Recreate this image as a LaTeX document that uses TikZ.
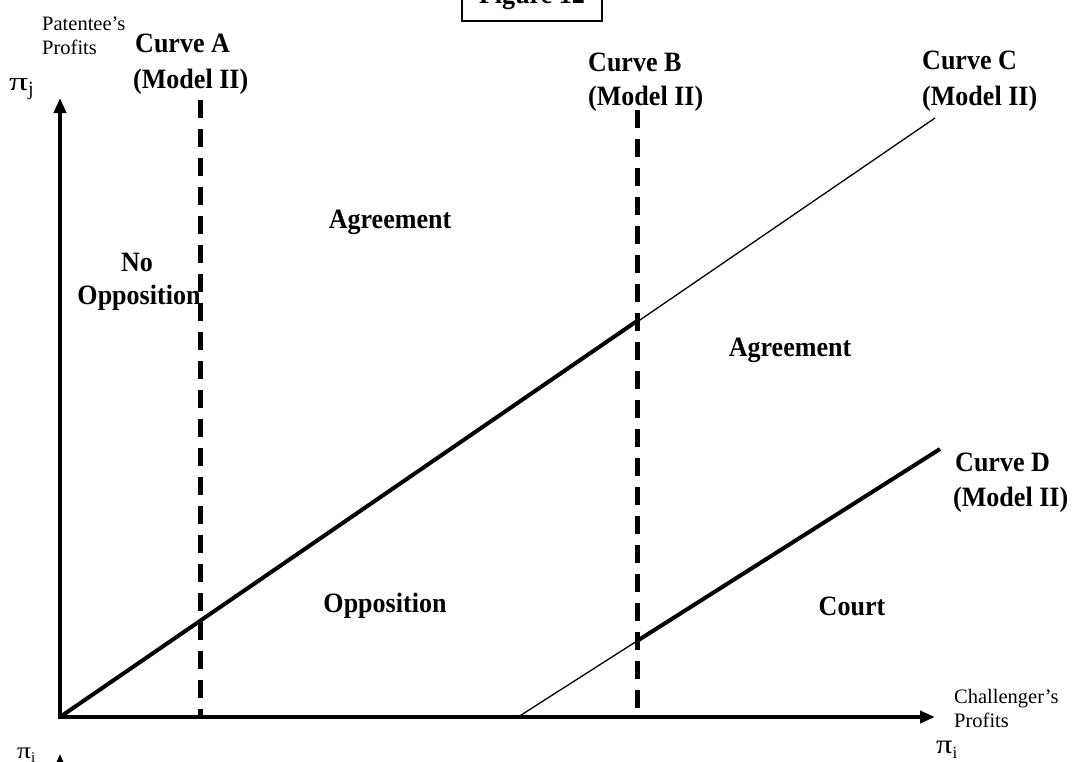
\documentclass[tikz,border=0pt]{standalone}
\usepackage{fontspec}
\setmainfont{Liberation Serif}
\newfontfamily\lblfont[FakeStretch=0.93]{Liberation Serif}
\usetikzlibrary{arrows.meta}
\newcommand{\bigpi}[3]{{\fontsize{#1}{#1}\selectfont\scalebox{#2}[1]{π}}\raisebox{-0.22em}{\fontsize{#3}{#3}\selectfont}}
\begin{document}
\begin{tikzpicture}[x=1pt,y=-1pt,
  lbl/.style={font=\lblfont\fontsize{28}{32}\selectfont\bfseries, inner sep=0pt, anchor=base west},
  region/.style={font=\lblfont\fontsize{28}{32}\selectfont\bfseries, inner sep=0pt},
  small/.style={font=\fontsize{20.5}{24}\selectfont, inner sep=0pt, anchor=base west},
  pilbl/.style={inner sep=0pt, anchor=base west},
  axisline/.style={line width=4pt, {Triangle[length=15pt,width=12pt]}-{Triangle[length=15pt,width=12pt]}},
  thickline/.style={line width=4pt},
  thinline/.style={line width=1.3pt},
  dashline/.style={line width=5pt, dash pattern=on 18pt off 11pt},
]
\useasboundingbox (0,0) rectangle (1078,761);
\fill[white] (0,0) rectangle (1078,761);

% title box
\node[region, anchor=base] (fig) at (532,3) {Figure 12};
\draw[line width=1.3pt] (462,-30) rectangle (602,21);

% axes
\coordinate (O) at (60,717);
\coordinate (ytip) at (60,98);
\coordinate (xtip) at (935,717);
\draw[axisline] (ytip) -- (O) -- (xtip);

% axis labels
\node[small] (pat1) at (42,30) {Patentee’s};
\node[small] (pat2) at (42,54) {Profits};
\node[small] (ch1) at (954,703) {Challenger’s};
\node[small] (ch2) at (954,727) {Profits};
\node[pilbl] (pij) at (9,90) {{\fontsize{26}{26}\selectfont\scalebox{1.45}[1]{π}}\raisebox{-5pt}{\fontsize{20}{20}\selectfont j}};
\node[pilbl] (pii) at (936,753) {{\fontsize{27}{27}\selectfont\scalebox{1.2}[1]{π}}\raisebox{-5pt}{\fontsize{17}{17}\selectfont i}};
\node[pilbl] (piil) at (17,758) {{\fontsize{23}{23}\selectfont\scalebox{1.2}[1]{π}}\raisebox{-4pt}{\fontsize{15}{15}\selectfont i}};
\coordinate (nb) at (60,795);
\coordinate (nt) at (60,754);
\draw[line width=2pt, -{Triangle[length=10pt,width=8pt]}] (nb) -- (nt);

% dashed curves A and B
\coordinate (Atop) at (200,100);
\coordinate (Abot) at (200,717);
\coordinate (Btop) at (637,110);
\coordinate (Bbot) at (637,717);
\draw[dashline] (Atop) -- (Abot);
\draw[dashline] (Btop) -- (Bbot);

% curve C
\coordinate (Cend) at (935,118);
\coordinate (CB) at (637,321);
\draw[thinline] (O) -- (Cend);
\draw[thickline] (O) -- (CB);

% curve D
\coordinate (D0) at (518,717);
\coordinate (DB) at (637,641);
\coordinate (Dend) at (940,449);
\draw[thinline] (D0) -- (DB);
\draw[thickline] (DB) -- (Dend);

% curve labels
\node[lbl] (ca1) at (135,52) {Curve A};
\node[lbl] (ca2) at (133,88) {(Model II)};
\node[lbl] (cb1) at (588,71) {Curve B};
\node[lbl] (cb2) at (588,105) {(Model II)};
\node[lbl] (cc1) at (922,69) {Curve C};
\node[lbl] (cc2) at (922,105) {(Model II)};
\node[lbl] (cd1) at (955,471) {Curve D};
\node[lbl] (cd2) at (953,506) {(Model II)};

% region labels
\node[region] (agr1) at (390,222) {Agreement};
\node[region] (no1) at (137,262) {No};
\node[region] (no2) at (139,298) {Opposition};
\node[region] (agr2) at (790,350) {Agreement};
\node[region] (opp) at (385,606) {Opposition};
\node[region] (court) at (852,606) {Court};
\end{tikzpicture}
\end{document}
